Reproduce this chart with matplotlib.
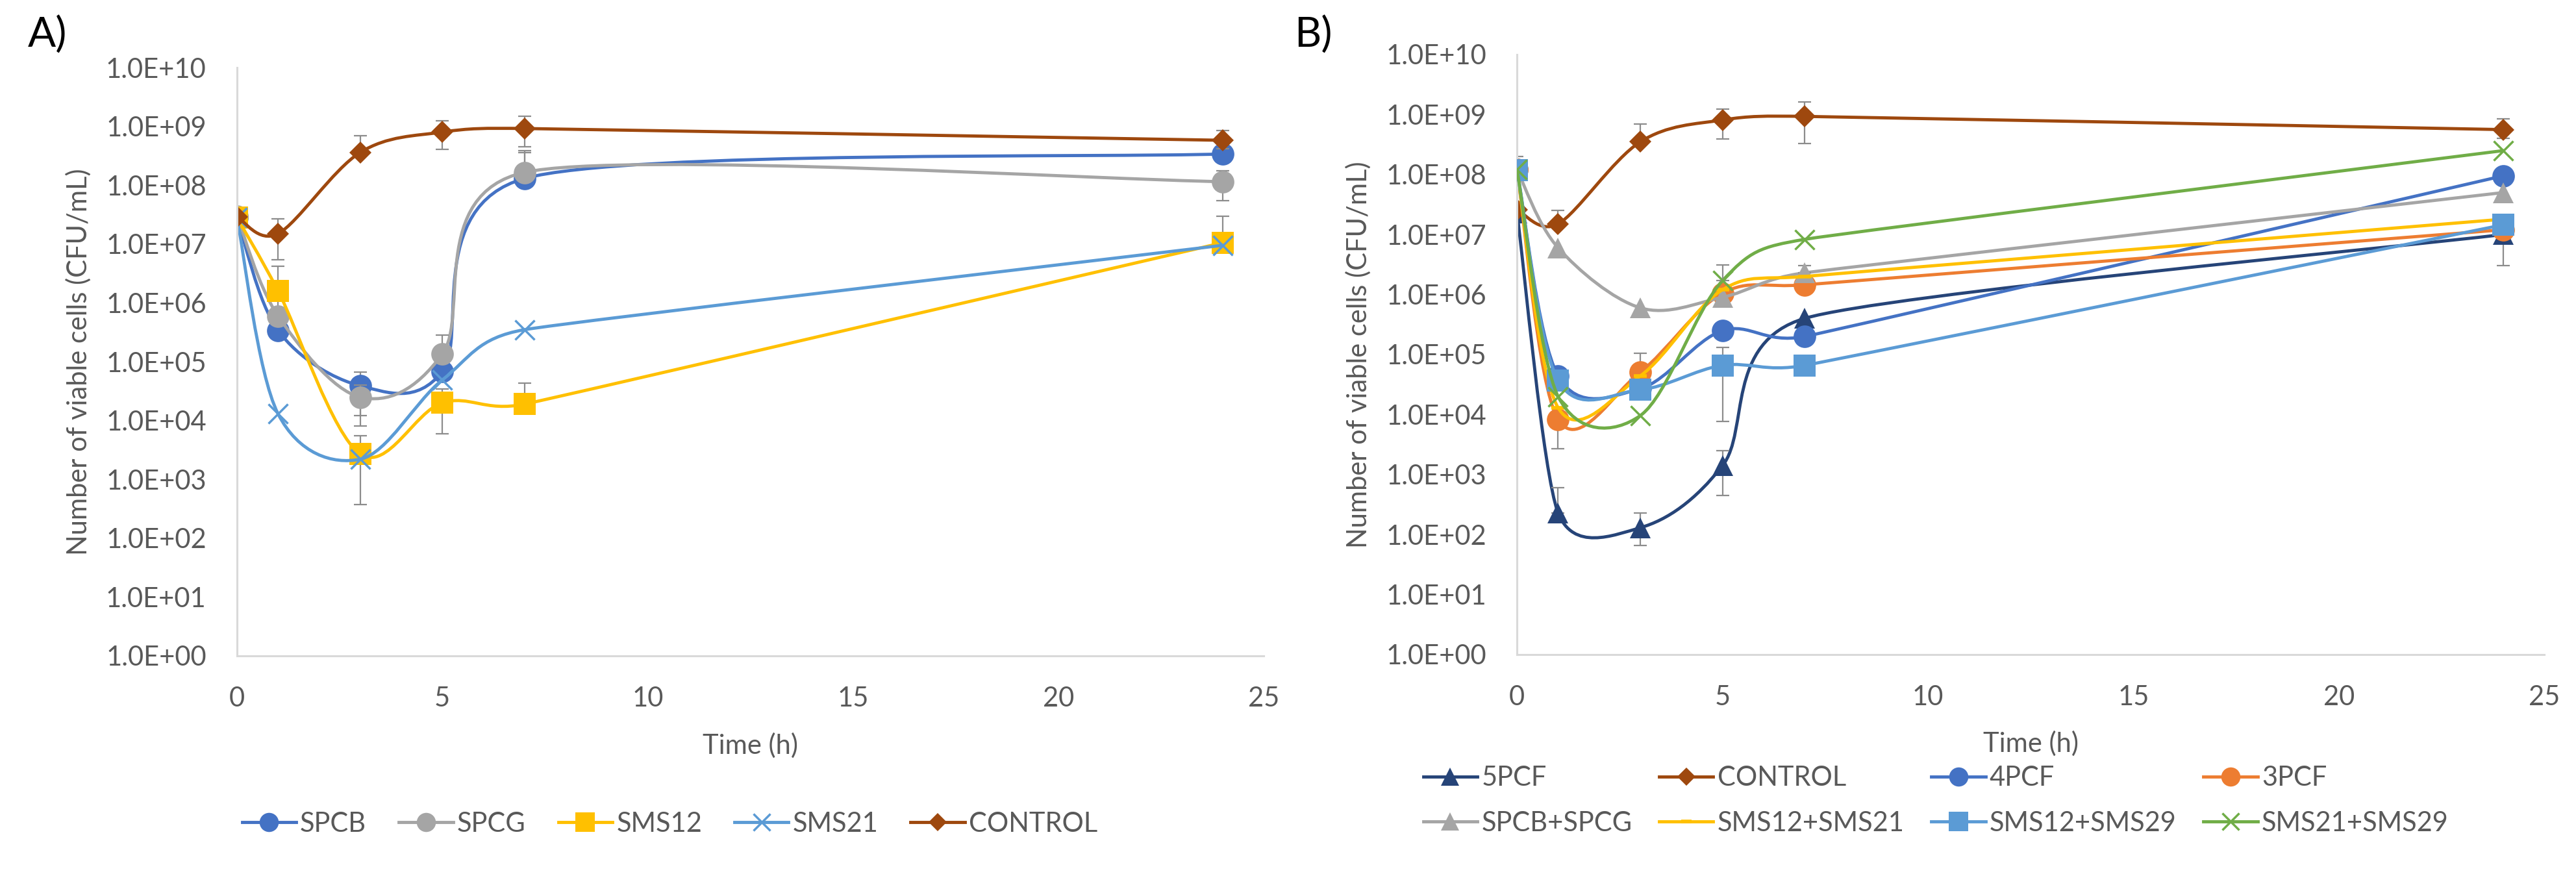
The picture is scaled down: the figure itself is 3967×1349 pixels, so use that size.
import numpy as np
import matplotlib
matplotlib.use("Agg")
import matplotlib.pyplot as plt
from matplotlib.path import Path
from matplotlib.patches import PathPatch
from matplotlib.lines import Line2D
from matplotlib.ticker import FixedLocator, FuncFormatter

plt.rcParams['font.family'] = ['Lato', 'DejaVu Sans']

nan = np.nan
times = [0, 1, 3, 5, 7, 24]

# ---- panel A data (CFU/mL) ----
a_names = ["SPCB", "SPCG", "SMS12", "SMS21", "CONTROL"]
a_spcb = [2.8e7, 3.4e5, 3.9e4, 6.8e4, 1.3e8, 3.4e8]
a_spcg = [3.0e7, 6.0e5, 2.5e4, 1.35e5, 1.65e8, 1.15e8]
a_sms12 = [2.8e7, 1.6e6, 2.7e3, 2.0e4, 1.9e4, 1.05e7]
a_sms21 = [2.8e7, 1.3e4, 2.2e3, 4.9e4, 3.5e5, 9.5e6]
a_control = [2.9e7, 1.5e7, 3.6e8, 8.0e8, 9.2e8, 5.8e8]
# error bar ends (low, high), nan = not drawn
a_spcb_lo = [nan, nan, 1.2e4, nan, nan, 2.6e8]
a_spcb_hi = [nan, nan, 6.6e4, nan, 3.6e8, 4.3e8]
a_spcg_lo = [nan, nan, 8.0e3, nan, nan, 5.5e7]
a_spcg_hi = [nan, 1.2e6, 4.0e4, 2.8e5, 3.9e8, 1.75e8]
a_sms12_lo = [nan, nan, 3.7e2, 6.0e3, nan, nan]
a_sms12_hi = [nan, 4.2e6, 5.5e3, 3.4e4, 4.3e4, 3.0e7]
a_sms21_lo = [nan, nan, nan, nan, nan, nan]
a_sms21_hi = [nan, nan, nan, nan, nan, nan]
a_control_lo = [nan, 5.4e6, nan, 4.1e8, 4.5e8, 4.2e8]
a_control_hi = [nan, 2.7e7, 7.0e8, 1.24e9, 1.5e9, 8.5e8]

# ---- panel B data (CFU/mL) ----
b_names = ["5PCF", "CONTROL", "4PCF", "3PCF",
           "SPCB+SPCG", "SMS12+SMS21", "SMS12+SMS29", "SMS21+SMS29"]
b_5pcf = [2.3e7, 2.3e2, 1.3e2, 1.4e3, 4.0e5, 1.0e7]
b_control = [2.6e7, 1.5e7, 3.5e8, 8.1e8, 9.3e8, 5.6e8]
b_4pcf = [1.2e8, 4.4e4, 2.7e4, 2.5e5, 2.0e5, 9.5e7]
b_3pcf = [1.2e8, 8.3e3, 5.1e4, 1.05e6, 1.45e6, 1.2e7]
b_spcb_spcg = [1.2e8, 6.0e6, 6.0e5, 9.0e5, 2.3e6, 5.0e7]
b_sms12_sms21 = [1.2e8, 1.3e4, 4.4e4, 1.2e6, 2.0e6, 1.8e7]
b_sms12_sms29 = [1.18e8, 3.7e4, 2.6e4, 6.6e4, 6.6e4, 1.45e7]
b_sms21_sms29 = [1.2e8, 2.0e4, 9.6e3, 1.7e6, 8.3e6, 2.5e8]
b_5pcf_lo = [nan, nan, 65, 4.5e2, nan, 3.0e6]
b_5pcf_hi = [nan, 6.0e2, 2.3e2, 2.5e3, nan, nan]
b_control_lo = [nan, nan, nan, 3.9e8, 3.3e8, 4.0e8]
b_control_hi = [nan, 2.5e7, 6.9e8, 1.23e9, 1.6e9, 8.5e8]
b_4pcf_lo = [nan] * 6
b_4pcf_hi = [nan] * 6
b_3pcf_lo = [nan, 2.7e3, nan, nan, nan, nan]
b_3pcf_hi = [nan, nan, 1.05e5, nan, nan, nan]
b_spcb_spcg_lo = [nan] * 6
b_spcb_spcg_hi = [2.0e8, nan, nan, nan, 3.0e6, nan]
b_sms12_sms21_lo = [nan] * 6
b_sms12_sms21_hi = [nan] * 6
b_sms12_sms29_lo = [nan, nan, nan, 7.7e3, 4.6e4, nan]
b_sms12_sms29_hi = [nan, nan, nan, 1.3e5, nan, nan]
b_sms21_sms29_lo = [nan] * 6
b_sms21_sms29_hi = [nan, nan, nan, 3.1e6, nan, nan]

# colours / markers
c_blue = "#4472C4"
c_gray = "#A5A5A5"
c_gold = "#FFC000"
c_lblue = "#5B9BD5"
c_brown = "#9E480E"
c_navy = "#264478"
c_orange = "#ED7D31"
c_green = "#70AD47"
txt = "#595959"
err_c = "#8C8C8C"

a_series = [
    (a_spcb, a_spcb_lo, a_spcb_hi, c_blue, "o", 25),
    (a_spcg, a_spcg_lo, a_spcg_hi, c_gray, "o", 25),
    (a_sms12, a_sms12_lo, a_sms12_hi, c_gold, "s", 25),
    (a_sms21, a_sms21_lo, a_sms21_hi, c_lblue, "x", 22),
    (a_control, a_control_lo, a_control_hi, c_brown, "D", 17),
]
b_series = [
    (b_5pcf, b_5pcf_lo, b_5pcf_hi, c_navy, "^", 23),
    (b_control, b_control_lo, b_control_hi, c_brown, "D", 17),
    (b_4pcf, b_4pcf_lo, b_4pcf_hi, c_blue, "o", 25),
    (b_3pcf, b_3pcf_lo, b_3pcf_hi, c_orange, "o", 25),
    (b_spcb_spcg, b_spcb_spcg_lo, b_spcb_spcg_hi, c_gray, "^", 23),
    (b_sms12_sms21, b_sms12_sms21_lo, b_sms12_sms21_hi, c_gold, "_", 14),
    (b_sms12_sms29, b_sms12_sms29_lo, b_sms12_sms29_hi, c_lblue, "s", 25),
    (b_sms21_sms29, b_sms21_sms29_lo, b_sms21_sms29_hi, c_green, "x", 22),
]


def smooth_path(x, y, sx, sy):
    # Excel-like smoothed line: bezier handles along neighbour direction,
    # arm = 1/6 of neighbour distance, capped at half of the adjacent segments
    # (worked out in pixel space, sx/sy = px per x unit / per decade)
    P = np.column_stack([np.asarray(x, float) * sx,
                         np.log10(np.asarray(y, float)) * sy])
    n = len(P)
    arms = []
    for i in range(n):
        a = P[max(i - 1, 0)]
        b = P[min(i + 1, n - 1)]
        T = b - a
        d02 = np.hypot(*T)
        if 0 < i < n - 1:
            L = min(d02 / 6, np.hypot(*(P[i] - a)) / 2, np.hypot(*(b - P[i])) / 2)
        else:
            L = d02 / 6
        arms.append(T / d02 * L if d02 > 0 else np.zeros(2))

    def to_data(p):
        return (p[0] / sx, 10 ** (p[1] / sy))

    verts = [to_data(P[0])]
    codes = [Path.MOVETO]
    for i in range(n - 1):
        verts += [to_data(P[i] + arms[i]), to_data(P[i + 1] - arms[i + 1]),
                  to_data(P[i + 1])]
        codes += [Path.CURVE4] * 3
    return Path(verts, codes)


def draw_panel(ax, series):
    ax.set_yscale("log")
    ax.set_xlim(0, 25)
    ax.set_ylim(1, 1e10)
    sx = ax.bbox.width / 25
    sy = ax.bbox.height / 10
    handles = []
    for k, (vals, lo, hi, col, mk, ms) in enumerate(series):
        z = 2 + k * 0.1
        patch = PathPatch(smooth_path(times, vals, sx, sy), facecolor="none",
                          edgecolor=col, lw=3.5, zorder=z, capstyle="round")
        ax.add_patch(patch)
        v = np.array(vals, float)
        lo = np.array(lo, float)
        hi = np.array(hi, float)
        keep = ~(np.isnan(lo) & np.isnan(hi))
        if keep.any():
            el = np.where(np.isnan(lo), 0, v - lo)[keep]
            eh = np.where(np.isnan(hi), 0, hi - v)[keep]
            ax.errorbar(np.array(times)[keep], v[keep], yerr=[el, eh], fmt="none",
                        ecolor=err_c, elinewidth=1.6, capsize=7, capthick=1.6,
                        zorder=z + 0.02)
        mew = 2.5 if mk == "x" else 0
        if mk == "_":
            mew = 4
        ax.plot(times, vals, linestyle="none", marker=mk, markersize=ms,
                color=col, markeredgecolor=col, markeredgewidth=mew, zorder=z + 0.05)
        handles.append(Line2D([], [], color=col, lw=3.5, marker=mk,
                              markersize=ms * 0.85, markeredgewidth=mew,
                              markeredgecolor=col))
    ax.xaxis.set_major_locator(FixedLocator([0, 5, 10, 15, 20, 25]))
    ax.yaxis.set_major_locator(FixedLocator([10.0 ** k for k in range(11)]))
    ax.yaxis.set_minor_locator(FixedLocator([]))
    ax.yaxis.set_major_formatter(FuncFormatter(
        lambda v, p: "1.0E+%02d" % int(round(np.log10(v)))))
    for s in ("top", "right"):
        ax.spines[s].set_visible(False)
    for s in ("left", "bottom"):
        ax.spines[s].set_color("#D9D9D9")
        ax.spines[s].set_linewidth(2.2)
    ax.tick_params(axis="both", length=0, labelsize=30, labelcolor=txt, pad=34)
    ax.set_xlabel("Time (h)", fontsize=30, color=txt)
    ax.set_ylabel("Number of viable cells (CFU/mL)", fontsize=30, color=txt)
    return handles


fig = plt.figure(figsize=(39.67, 13.49), dpi=100)
axA = fig.add_axes([0.0920, 0.2513, 0.3985, 0.6716])
axB = fig.add_axes([0.5889, 0.2528, 0.3988, 0.6850])

hA = draw_panel(axA, a_series)
hB = draw_panel(axB, b_series)

axA.xaxis.set_label_coords(0.5, -0.131)
axB.xaxis.set_label_coords(0.5, -0.127)
axA.yaxis.set_label_coords(-0.142, 0.5)
axB.yaxis.set_label_coords(-0.142, 0.5)

fig.text(0.0184, 0.96, "A)", fontsize=46, color="black", va="center", ha="center")
fig.text(0.5098, 0.96, "B)", fontsize=46, color="black", va="center", ha="center")

fig.legend(hA, a_names, loc="center", bbox_to_anchor=(0.26, 0.0593), ncol=5,
           frameon=False, fontsize=30, handlelength=2.0, handletextpad=0.15,
           columnspacing=1.2, labelcolor=txt)

order = [0, 4, 1, 5, 2, 6, 3, 7]
fig.legend([hB[i] for i in order], [b_names[i] for i in order], loc="center",
           bbox_to_anchor=(0.7515, 0.086), ncol=4, frameon=False, fontsize=30,
           handlelength=2.0, handletextpad=0.15, columnspacing=1.0,
           labelspacing=0.75, labelcolor=txt)

fig.savefig("out.png", dpi=100, facecolor="white")
